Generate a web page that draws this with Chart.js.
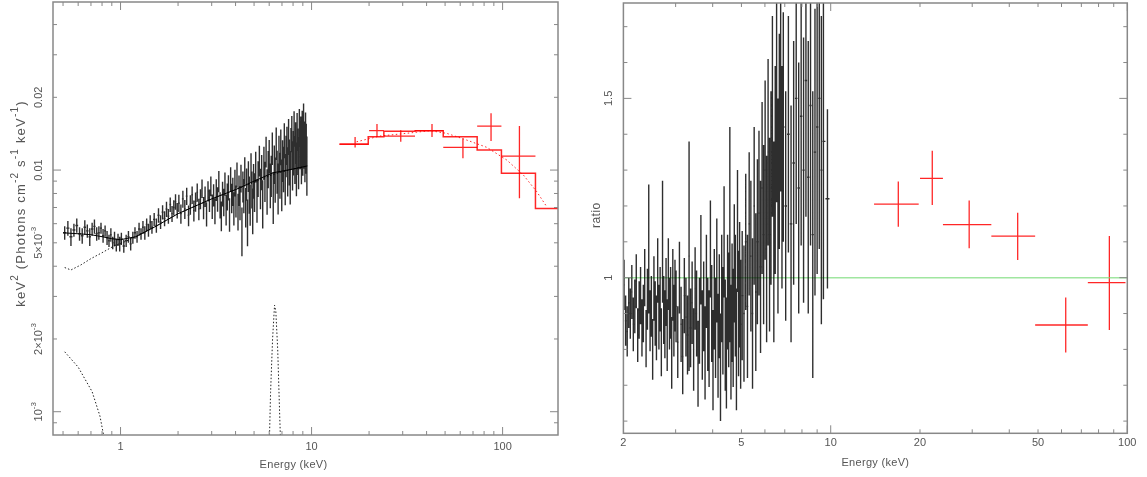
<!DOCTYPE html>
<html>
<head>
<meta charset="utf-8">
<script src="https://cdn.jsdelivr.net/npm/chart.js@4.4.1/dist/chart.umd.min.js"></script>
<style>
  html, body { margin: 0; padding: 0; background: #fff; overflow: hidden; }
  #c1 { position: absolute; left: 0; top: 0; }
  #c2 { position: absolute; left: 580px; top: 0; }
</style>
</head>
<body>
<canvas id="c1" width="575" height="477"></canvas>
<canvas id="c2" width="567" height="477"></canvas>
<script>
/* Two panels: unfolded spectrum (left) and data/model ratio (right). */

// ---- left panel: EPIC data (keV, E^2 F in units of 1e-3, 1 sigma) ----
const FLUX_UNIT = 1e-3;
const epicE = [
  0.51, 0.53, 0.55, 0.57, 0.59, 0.61, 0.63, 0.65, 0.67, 0.69, 0.71, 0.73, 0.75, 0.77, 0.79, 0.81, 0.83,
  0.85, 0.87, 0.89, 0.91, 0.93, 0.95, 0.97, 0.99,
  1.01, 1.04, 1.07, 1.1, 1.13, 1.16, 1.19, 1.22, 1.25, 1.28, 1.31, 1.34, 1.37, 1.4, 1.43, 1.46, 1.5,
  1.54, 1.58, 1.62, 1.66, 1.7, 1.74, 1.78, 1.82, 1.86, 1.9, 1.94, 1.98,
  2.02, 2.07, 2.12, 2.17, 2.22, 2.27, 2.32, 2.37, 2.42, 2.47, 2.52, 2.57, 2.62, 2.67, 2.72, 2.77, 2.82,
  2.87, 2.92, 2.97, 3.02, 3.07, 3.12, 3.17, 3.22, 3.27, 3.32, 3.37, 3.42, 3.47, 3.52, 3.57, 3.62, 3.67,
  3.72, 3.77, 3.82, 3.87, 3.92, 3.97, 4.02, 4.07, 4.12, 4.17, 4.22, 4.27, 4.32, 4.37, 4.42, 4.47, 4.52,
  4.57, 4.62, 4.67, 4.72, 4.77, 4.82, 4.87, 4.92, 4.97,
  5.03, 5.1, 5.18, 5.25, 5.33, 5.4, 5.48, 5.55, 5.63, 5.7, 5.78, 5.85, 5.93, 6.0, 6.08, 6.15, 6.23, 6.3,
  6.38, 6.45, 6.53, 6.6, 6.68, 6.75, 6.83, 6.9, 6.98, 7.05, 7.13, 7.2, 7.28, 7.35, 7.43, 7.5, 7.58, 7.65,
  7.73, 7.8, 7.88, 7.95, 8.03, 8.1, 8.18, 8.25, 8.33, 8.4, 8.48, 8.55, 8.63, 8.7, 8.78, 8.85, 8.93, 9.0,
  9.08, 9.15, 9.23, 9.3, 9.38, 9.45];
const epicF = [
  5.5, 5.75, 5.3, 5.65, 5.9, 5.45, 5.35, 5.8, 5.6, 5.3, 5.7, 5.85, 5.45, 5.5, 5.75, 5.35, 5.6,
  5.25, 5.1, 5.4, 5.0, 5.2, 4.9, 5.15, 4.95,
  5.2, 4.85, 5.1, 5.3, 4.95, 5.25, 5.5, 5.3, 5.7, 5.45, 5.8, 5.5, 5.95, 5.65, 6.1, 5.8, 6.25,
  5.9, 6.5, 6.1, 6.7, 6.3, 6.9, 6.45, 7.2, 6.6, 7.0, 7.4, 6.8,
  7.3, 6.6, 7.6, 6.9, 7.8, 6.5, 7.2, 7.9, 6.8, 7.4, 8.1, 6.9, 7.6, 8.4, 7.0, 7.8, 6.6,
  8.2, 7.5, 8.6, 7.1, 7.9, 6.8, 8.3, 7.6, 9.0, 7.2, 6.5, 8.0, 7.4, 8.8, 6.9, 7.8, 8.5,
  6.6, 9.2, 7.7, 8.2, 7.0, 8.9, 7.5, 9.6, 6.8, 8.3, 7.4, 9.3, 5.7, 8.6, 7.9, 10.0, 7.1,
  8.8, 6.2, 9.5, 8.0, 7.3, 10.3, 8.4, 6.9, 9.1,
  8.2, 10.4, 7.6, 9.3, 11.0, 8.5, 9.9, 7.4, 10.8, 9.1, 12.0, 8.3, 10.2, 11.5, 8.8, 9.6, 12.4, 7.9,
  10.7, 9.3, 13.0, 10.0, 8.6, 11.8, 9.7, 12.6, 8.9, 11.1, 10.3, 13.4, 9.4, 11.6, 12.8, 10.1, 13.9, 11.0,
  9.6, 12.5, 14.3, 10.7, 12.0, 15.0, 11.3, 13.2, 10.4, 14.6, 12.2, 11.0, 15.2, 12.8, 13.9, 11.5, 14.8, 12.3,
  16.0, 13.0, 11.8, 14.4, 12.6, 10.8];
const epicErr = [
  0.35, 0.4, 0.45, 0.35, 0.4, 0.35, 0.4, 0.4, 0.35, 0.45, 0.35, 0.4, 0.35, 0.35, 0.3, 0.35, 0.3,
  0.35, 0.3, 0.35, 0.3, 0.35, 0.3, 0.3, 0.35,
  0.3, 0.3, 0.3, 0.3, 0.3, 0.3, 0.3, 0.3, 0.35, 0.3, 0.35, 0.35, 0.35, 0.35, 0.4, 0.35, 0.4,
  0.4, 0.45, 0.4, 0.45, 0.45, 0.5, 0.45, 0.5, 0.5, 0.5, 0.55, 0.5,
  0.6, 0.6, 0.62, 0.62, 0.64, 0.64, 0.66, 0.66, 0.68, 0.68, 0.7, 0.7, 0.72, 0.74, 0.74, 0.76, 0.76,
  0.78, 0.8, 0.8, 0.82, 0.84, 0.84, 0.86, 0.88, 0.9, 0.9, 0.92, 0.94, 0.96, 0.98, 1.0, 1.0, 1.02,
  1.04, 1.06, 1.08, 1.1, 1.1, 1.12, 1.14, 1.16, 1.18, 1.2, 1.2, 1.22, 1.3, 1.26, 1.28, 1.3, 1.32,
  1.34, 1.36, 1.38, 1.4, 1.42, 1.44, 1.46, 1.48, 1.5,
  1.5, 1.52, 1.55, 1.57, 1.6, 1.62, 1.65, 1.67, 1.7, 1.72, 1.75, 1.77, 1.8, 1.82, 1.85, 1.87, 1.9, 1.92,
  1.95, 1.97, 2.0, 2.02, 2.05, 2.07, 2.1, 2.12, 2.15, 2.17, 2.2, 2.22, 2.25, 2.27, 2.3, 2.32, 2.35, 2.37,
  2.4, 2.42, 2.45, 2.47, 2.5, 2.52, 2.55, 2.57, 2.6, 2.62, 2.65, 2.67, 2.7, 2.72, 2.75, 2.77, 2.8, 2.82,
  2.85, 2.87, 2.9, 2.92, 2.95, 2.97];

// total model through the EPIC band
const modelE = [0.5, 0.6, 0.7, 0.8, 0.9, 1.0, 1.2, 1.5, 2, 3, 4, 5, 6.3, 8, 9.5];
const modelF = [5.5, 5.45, 5.4, 5.3, 5.2, 5.15, 5.3, 5.8, 6.6, 7.6, 8.3, 9.0, 9.75, 10.1, 10.4];
// model components (dotted)
const plCompE = [0.51, 0.55, 0.62, 0.7, 0.8, 0.91, 1.05, 1.2, 1.5, 2, 3, 4, 5, 6.3, 8, 9.5];
const plCompF = [3.95, 3.86, 4.05, 4.3, 4.55, 4.82, 5.05, 5.3, 5.8, 6.6, 7.6, 8.3, 8.9, 9.6, 10.1, 10.4];
const softE = [0.51, 0.6, 0.71, 0.78, 0.82];
const softF = [1.77, 1.53, 1.21, 0.96, 0.78];
const lineE = [6.0, 6.1, 6.25, 6.4, 6.5, 6.65, 6.8, 6.9];
const lineF = [0.7, 1.2, 2.0, 2.76, 2.6, 1.8, 1.0, 0.7];

// hard X-ray points (bins in keV)
const pdsE = [16.9, 22.0, 29.3, 42.7, 62.0, 87.0, 122.5];
const pdsElo = [14.0, 20.0, 23.9, 34.8, 48.9, 73.6, 98.6];
const pdsEhi = [19.8, 23.9, 34.8, 48.9, 73.6, 98.6, 148.6];
const pdsF = [12.8, 14.55, 13.83, 14.55, 12.42, 15.2, 11.43];
const pdsFlo = [12.4, 13.7, 13.1, 13.7, 11.18, 13.2, 7.64];
const pdsFhi = [13.7, 15.5, 14.6, 15.5, 13.5, 17.2, 15.2];
// folded model (step) and unfolded model (dotted)
const stepEdges = [14.0, 19.8, 23.9, 34.8, 48.9, 73.6, 98.6, 148.6, 200];
const stepF = [12.8, 13.74, 14.46, 14.55, 13.74, 12.1, 9.69, 6.94];
const pdsModelE = [17.2, 22.8, 29.1, 41.7, 51.0, 64.9, 82.6, 105.2, 128.6, 151.1, 170.3];
const pdsModelF = [13.09, 13.83, 14.1, 14.55, 14.19, 13.31, 12.42, 11.0, 9.53, 8.13, 7.05];

// ---- right panel: ratio data/model ----
const ratioE = [
  2.01, 2.035, 2.06, 2.085, 2.11, 2.135, 2.16, 2.185, 2.21, 2.235, 2.26, 2.285, 2.31, 2.335, 2.36, 2.385,
  2.41, 2.435, 2.46, 2.485, 2.51, 2.535, 2.56, 2.585, 2.61, 2.635, 2.66, 2.685, 2.71, 2.735, 2.76, 2.785,
  2.81, 2.835, 2.86, 2.885, 2.91, 2.935, 2.96, 2.985,
  3.01, 3.05, 3.09, 3.13, 3.17, 3.21, 3.25, 3.29, 3.33, 3.37, 3.41, 3.45, 3.49, 3.53, 3.57, 3.61, 3.65,
  3.69, 3.73, 3.77, 3.81, 3.85, 3.89, 3.93, 3.97, 4.01, 4.05, 4.09, 4.13, 4.17, 4.21, 4.25, 4.29, 4.33,
  4.37, 4.41, 4.45, 4.49, 4.53, 4.57, 4.61, 4.65, 4.69, 4.73, 4.77, 4.81, 4.85, 4.89, 4.93, 4.97,
  5.03, 5.1, 5.17, 5.24, 5.31, 5.38, 5.45, 5.52, 5.59, 5.66, 5.73, 5.8, 5.87, 5.94, 6.01, 6.08, 6.15,
  6.22, 6.29, 6.36, 6.43, 6.5, 6.57, 6.64, 6.71, 6.78, 6.85, 6.92,
  7.05, 7.2, 7.35, 7.5, 7.65, 7.8, 7.95, 8.1, 8.25, 8.4, 8.55, 8.7, 8.85, 9.0, 9.15, 9.3, 9.45, 9.75];
const ratioV = [
  0.98, 0.88, 0.85, 0.93, 0.9, 0.96, 0.87, 0.92, 0.99, 0.84, 0.91, 0.95, 0.86, 0.9, 1.0, 0.83,
  0.94, 1.08, 0.88, 0.92, 0.8, 0.97, 0.9, 0.86, 1.02, 0.89, 0.94, 0.82, 1.1, 0.91, 0.87, 0.96,
  0.84, 1.01, 0.9, 0.93, 0.79, 0.98, 0.88, 0.95,
  0.92, 0.82, 1.0, 0.87, 0.78, 0.95, 0.89, 0.84, 1.06, 0.86, 0.93, 0.8, 0.97, 0.9, 0.76, 0.88, 1.05,
  0.84, 0.92, 0.79, 0.99, 0.87, 0.83, 1.08, 0.9, 0.77, 0.94, 0.86, 1.02, 0.81, 0.92, 0.75, 0.97, 0.88,
  1.1, 0.84, 0.79, 0.96, 0.91, 1.12, 0.82, 0.93, 0.86, 1.04, 0.95, 0.8, 1.13, 0.9, 0.98, 0.87,
  0.95, 0.9, 1.1, 0.92, 1.15, 1.06, 0.9, 1.2, 0.96, 1.1, 1.18, 1.03, 1.25, 1.12, 1.3, 1.08, 1.35,
  1.12, 1.25, 1.45, 1.1, 1.3, 1.5, 1.2, 1.38, 1.55, 1.28, 1.42,
  1.2, 1.4, 1.15, 1.32, 1.5, 1.25, 1.45, 1.3, 1.55, 1.28, 1.48, 1.12, 1.35, 1.42, 1.5, 1.3, 1.38, 1.22];
const ratioErr = [
  0.07, 0.07, 0.07, 0.07, 0.07, 0.075, 0.075, 0.075, 0.075, 0.075, 0.08, 0.08, 0.08, 0.08, 0.08, 0.08,
  0.085, 0.18, 0.085, 0.085, 0.085, 0.09, 0.09, 0.09, 0.09, 0.09, 0.09, 0.095, 0.17, 0.095, 0.095, 0.095,
  0.1, 0.1, 0.1, 0.1, 0.1, 0.1, 0.1, 0.1,
  0.1, 0.1, 0.1, 0.105, 0.105, 0.105, 0.11, 0.11, 0.32, 0.11, 0.115, 0.115, 0.115, 0.12, 0.12, 0.12, 0.125,
  0.125, 0.125, 0.13, 0.13, 0.13, 0.135, 0.135, 0.135, 0.14, 0.14, 0.14, 0.145, 0.145, 0.145, 0.15, 0.15, 0.15,
  0.155, 0.155, 0.155, 0.16, 0.16, 0.3, 0.16, 0.165, 0.165, 0.165, 0.17, 0.17, 0.17, 0.175, 0.175, 0.18,
  0.18, 0.19, 0.19, 0.2, 0.2, 0.21, 0.21, 0.22, 0.22, 0.23, 0.23, 0.24, 0.24, 0.25, 0.25, 0.26, 0.26,
  0.27, 0.27, 0.28, 0.28, 0.29, 0.29, 0.3, 0.3, 0.31, 0.31, 0.32,
  0.32, 0.33, 0.33, 0.34, 0.35, 0.35, 0.36, 0.37, 0.38, 0.38, 0.39, 0.4, 0.4, 0.41, 0.42, 0.43, 0.44, 0.25];
const pdsRatio = [1.205, 1.277, 1.148, 1.116, 0.868, 0.986];
const pdsRatioLo = [1.142, 1.203, 1.082, 1.049, 0.791, 0.854];
const pdsRatioHi = [1.268, 1.354, 1.215, 1.181, 0.945, 1.116];

// ---- axes: ticks and labels ----
const leftXMajor = [1, 10, 100];
const leftXMinor = [0.5, 0.6, 0.7, 0.8, 0.9, 2, 3, 4, 5, 6, 7, 8, 9, 20, 30, 40, 50, 60, 70, 80, 90];
const leftXLabels = [[1, "1"], [10, "10"], [100, "100"]];
const leftYMajor = [0.001, 0.01];
const leftYMinor = [0.0009, 0.002, 0.003, 0.004, 0.005, 0.006, 0.007, 0.008, 0.009, 0.02, 0.03, 0.04];
const leftYLabels = [[0.001, "10^{-3}"], [0.002, "2×10^{-3}"], [0.005, "5×10^{-3}"], [0.01, "0.01"], [0.02, "0.02"]];
const rightXMajor = [10, 100];
const rightXMinor = [3, 4, 5, 6, 7, 8, 9, 20, 30, 40, 50, 60, 70, 80, 90];
const rightXLabels = [[2, "2"], [5, "5"], [10, "10"], [20, "20"], [50, "50"], [100, "100"]];
const rightYMajor = [1, 1.5];
const rightYMinor = [0.6, 0.7, 0.8, 0.9, 1.1, 1.2, 1.3, 1.4, 1.6, 1.7];
const rightYLabels = [[1, "1"], [1.5, "1.5"]];

const FONT = "Liberation Sans, Arial, sans-serif";
const TEXT = "#555";
const FRAME = "#888";

function scaled(arr) { return arr.map((v) => v * FLUX_UNIT); }
function pairs(xs, ys) { return xs.map((x, i) => ({ x: x, y: ys[i] })); }

// geometric bin edges halfway to the neighbours
function binEdges(e) {
  return e.map((x, i) => {
    const prev = i > 0 ? e[i - 1] : (x * x) / e[i + 1];
    const next = i < e.length - 1 ? e[i + 1] : (x * x) / e[i - 1];
    return [Math.sqrt(prev * x), Math.sqrt(x * next)];
  });
}

// error crosses as one gapped line
function crosses(xc, xlo, xhi, yc, ylo, yhi) {
  const pts = [];
  for (let i = 0; i < xc.length; i++) {
    pts.push({ x: xc[i], y: ylo[i] }, { x: xc[i], y: yhi[i] }, { x: xc[i], y: null });
    pts.push({ x: xlo[i], y: yc[i] }, { x: xhi[i], y: yc[i] }, { x: xhi[i], y: null });
  }
  return pts;
}

function steps(edges, levels) {
  const pts = [];
  levels.forEach((v, i) => { pts.push({ x: edges[i], y: v }, { x: edges[i + 1], y: v }); });
  return pts;
}

// superscript markup "10^{-3}"
function parseRich(s) {
  const parts = [];
  const re = /\^\{([^}]*)\}/g;
  let last = 0, m;
  while ((m = re.exec(s))) {
    if (m.index > last) parts.push([s.slice(last, m.index), false]);
    parts.push([m[1], true]);
    last = re.lastIndex;
  }
  if (last < s.length) parts.push([s.slice(last), false]);
  return parts;
}

function drawRich(ctx, s, cx, cy, size, spacing) {
  const parts = parseRich(s);
  const base = size + "px " + FONT, sup = Math.round(size * 0.75) + "px " + FONT;
  ctx.letterSpacing = (spacing || 0) + "px";
  let w = 0;
  parts.forEach((p) => { ctx.font = p[1] ? sup : base; w += ctx.measureText(p[0]).width; });
  let x = cx - w / 2;
  ctx.textAlign = "left";
  ctx.textBaseline = "middle";
  parts.forEach((p) => {
    ctx.font = p[1] ? sup : base;
    ctx.fillText(p[0], x, cy - (p[1] ? size * 0.45 : 0));
    x += ctx.measureText(p[0]).width;
  });
  ctx.letterSpacing = "0px";
}

// PGPLOT-like box: frame, inward ticks on all sides, rotated y labels
const pgBox = {
  id: "pgBox",
  afterDraw(chart, args, o) {
    const { ctx, chartArea: a, scales } = chart;
    const xs = scales.x, ys = scales.y;
    ctx.save();
    ctx.strokeStyle = FRAME;
    ctx.lineWidth = 1.5;
    ctx.strokeRect(a.left, a.top, a.right - a.left, a.bottom - a.top);
    ctx.lineWidth = 1;
    ctx.beginPath();
    const tickX = (vals, len) => vals.forEach((v) => {
      const px = xs.getPixelForValue(v);
      if (px < a.left || px > a.right) return;
      ctx.moveTo(px, a.bottom); ctx.lineTo(px, a.bottom - len);
      ctx.moveTo(px, a.top); ctx.lineTo(px, a.top + len);
    });
    const tickY = (vals, len) => vals.forEach((v) => {
      const py = ys.getPixelForValue(v);
      if (py < a.top || py > a.bottom) return;
      ctx.moveTo(a.left, py); ctx.lineTo(a.left + len, py);
      ctx.moveTo(a.right, py); ctx.lineTo(a.right - len, py);
    });
    tickX(o.xMajor, 8); tickX(o.xMinor, 4);
    tickY(o.yMajor, 8); tickY(o.yMinor, 4);
    ctx.stroke();

    ctx.fillStyle = TEXT;
    o.xLabels.forEach(([v, t]) => drawRich(ctx, t, xs.getPixelForValue(v), a.bottom + o.xLabelGap, 11));
    drawRich(ctx, o.xTitle, (a.left + a.right) / 2 + o.xTitleShift, a.bottom + o.xTitleGap, 11, 0.3);
    o.yLabels.forEach(([v, t]) => {
      ctx.save();
      ctx.translate(a.left - o.yLabelGap, ys.getPixelForValue(v));
      ctx.rotate(-Math.PI / 2);
      drawRich(ctx, t, 0, 0, 11);
      ctx.restore();
    });
    ctx.save();
    ctx.translate(a.left - o.yTitleGap, (a.top + a.bottom) / 2 + o.yTitleShift);
    ctx.rotate(-Math.PI / 2);
    drawRich(ctx, o.yTitle, 0, 0, o.yTitleSize, o.yTitleSpacing);
    ctx.restore();
    ctx.restore();
  },
};

function lineSet(data, color, width, dash) {
  return {
    data: data,
    borderColor: color,
    borderWidth: width,
    borderDash: dash || [],
    pointRadius: 0,
    showLine: true,
    spanGaps: false,
    tension: 0,
    fill: false,
  };
}

function baseOptions(padding, x, y, box) {
  return {
    responsive: false,
    animation: false,
    events: [],
    layout: { padding: padding },
    plugins: { legend: { display: false }, tooltip: { enabled: false }, pgBox: box },
    scales: { x: Object.assign({ display: false }, x), y: Object.assign({ display: false }, y) },
  };
}

// ---- left panel ----
const epicEdges = binEdges(epicE);
const BLACK = "rgba(0,0,0,0.82)";
const RED = "rgba(255,0,0,0.85)";

new Chart(document.getElementById("c1"), {
  type: "line",
  data: {
    datasets: [
      lineSet(crosses(epicE, epicEdges.map((b) => b[0]), epicEdges.map((b) => b[1]),
        scaled(epicF), scaled(epicF.map((v, i) => v - epicErr[i])), scaled(epicF.map((v, i) => v + epicErr[i]))), BLACK, 1.4),
      lineSet(pairs(modelE, scaled(modelF)), "#000", 1),
      lineSet(pairs(plCompE, scaled(plCompF)), "#222", 1, [1.5, 2]),
      lineSet(pairs(softE, scaled(softF)), "#222", 1, [1.5, 2]),
      lineSet(pairs(lineE, scaled(lineF)), "#222", 1, [1.5, 2]),
      lineSet(crosses(pdsE, pdsElo, pdsEhi, scaled(pdsF), scaled(pdsFlo), scaled(pdsFhi)), RED, 1.3),
      lineSet(steps(stepEdges, scaled(stepF)), RED, 1.5),
      lineSet(pairs(pdsModelE, scaled(pdsModelF)), RED, 1, [1.5, 2.5]),
    ],
  },
  options: baseOptions(
    { left: 53, right: 17, top: 2, bottom: 42 },
    { type: "logarithmic", min: 0.443, max: 195 },
    { type: "logarithmic", min: 0.000801, max: 0.0496 },
    {
      xMajor: leftXMajor, xMinor: leftXMinor, xLabels: leftXLabels,
      yMajor: leftYMajor, yMinor: leftYMinor, yLabels: leftYLabels,
      xTitle: "Energy (keV)", yTitle: "keV^{2} (Photons cm^{-2} s^{-1} keV^{-1})",
      xLabelGap: 12, xTitleGap: 30, xTitleShift: -12, yLabelGap: 14,
      yTitleGap: 32, yTitleShift: -15, yTitleSize: 13, yTitleSpacing: 1.2,
    }
  ),
  plugins: [pgBox],
});

// ---- right panel ----
const ratioEdges = binEdges(ratioE);

new Chart(document.getElementById("c2"), {
  type: "line",
  data: {
    datasets: [
      lineSet(crosses(ratioE, ratioEdges.map((b) => b[0]), ratioEdges.map((b) => b[1]),
        ratioV, ratioV.map((v, i) => v - ratioErr[i]), ratioV.map((v, i) => v + ratioErr[i])), BLACK, 1.4),
      lineSet([{ x: 2, y: 1 }, { x: 100, y: 1 }], "rgba(120,220,120,0.7)", 1.5),
      lineSet(crosses(pdsE.slice(0, 6), pdsElo.slice(0, 6), pdsEhi.slice(0, 6), pdsRatio, pdsRatioLo, pdsRatioHi), RED, 1.3),
    ],
  },
  options: baseOptions(
    { left: 43.4, right: 19.7, top: 3, bottom: 43.7 },
    { type: "logarithmic", min: 2, max: 100 },
    { type: "linear", min: 0.566, max: 1.766 },
    {
      xMajor: rightXMajor, xMinor: rightXMinor, xLabels: rightXLabels,
      yMajor: rightYMajor, yMinor: rightYMinor, yLabels: rightYLabels,
      xTitle: "Energy (keV)", yTitle: "ratio",
      xLabelGap: 10, xTitleGap: 30, xTitleShift: 0, yLabelGap: 14,
      yTitleGap: 27, yTitleShift: -3, yTitleSize: 12, yTitleSpacing: 0.5,
    }
  ),
  plugins: [pgBox],
});
</script>
</body>
</html>
